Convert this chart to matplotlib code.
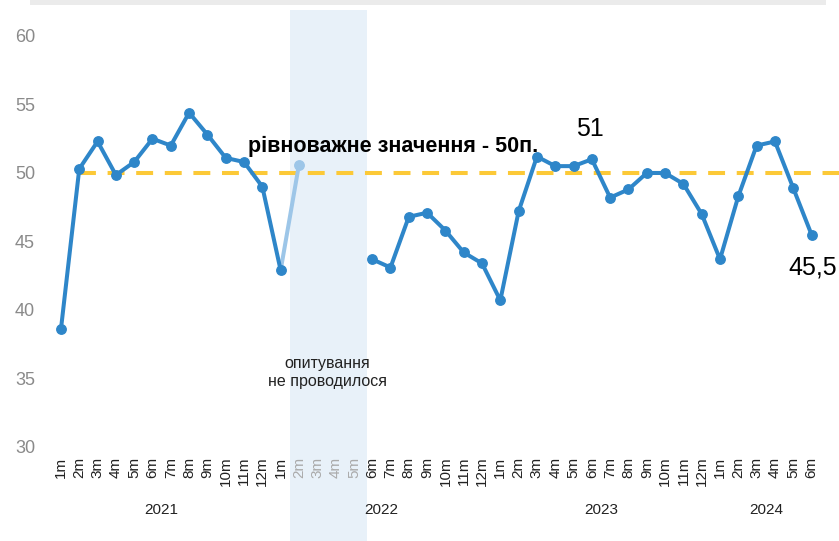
import numpy as np
import matplotlib
matplotlib.use("Agg")
import matplotlib.pyplot as plt
import matplotlib.transforms as mtransforms
from matplotlib.patches import Rectangle

plt.rcParams['font.family'] = ['Liberation Sans', 'DejaVu Sans']

# data
years = ['2021', '2022', '2023', '2024']
months_per_year = [12, 12, 12, 6]
month_labels = [f"{m}m" for n in months_per_year for m in range(1, n + 1)]

values = [38.6, 50.3, 52.3, 49.85, 50.8, 52.5, 52.0, 54.4, 52.8, 51.1, 50.8, 49.0,   # 2021
          42.9, 50.6, np.nan, np.nan, np.nan, 43.7, 43.1, 46.8, 47.1, 45.8, 44.2, 43.4,  # 2022
          40.7, 47.2, 51.2, 50.5, 50.5, 51.0, 48.2, 48.8, 50.0, 50.0, 49.2, 47.0,   # 2023
          43.7, 48.3, 52.0, 52.3, 48.9, 45.5]  # 2024
no_survey = [13, 14, 15, 16]     # 2022 2m-5m: greyed labels
light_point = 13                 # 2022 2m: pale point
equilibrium = 50
yticks = [30, 35, 40, 45, 50, 55, 60]

x = np.arange(len(values))
vals = np.array(values, dtype=float)

fig = plt.figure(figsize=(8.39, 5.41), dpi=100)
ax = fig.add_axes([0.06, 0.1738, 0.94, 0.7597])

blue = '#2e86c9'
light_blue = '#9dc6e8'

# shaded "no survey" band (covers labels too)
trans = mtransforms.blended_transform_factory(ax.transData, fig.transFigure)
ax.add_patch(Rectangle((12.5, 0), 4.2, (541 - 10) / 541, transform=trans,
                       facecolor='#e8f1f9', edgecolor='none', clip_on=False, zorder=0))

# equilibrium line
ax.plot([1, 42.6], [equilibrium, equilibrium], color='#fcc937', lw=2.9,
        dashes=(4.2, 2.9), zorder=2, clip_on=False)

# pale segment to 2022 2m
ax.plot(x[light_point - 1:light_point + 1], vals[light_point - 1:light_point + 1],
        color=light_blue, lw=2.9, zorder=3)
ax.plot([x[light_point]], [vals[light_point]], 'o', color=light_blue, ms=6.8, zorder=3)

main = vals.copy()
main[light_point] = np.nan
ax.plot(x, main, color=blue, lw=2.9, marker='o', ms=6.8, zorder=4, clip_on=False)

ax.set_xlim(-0.58, 42.5)
ax.set_ylim(30, 60)
ax.set_yticks(yticks)
ax.set_xticks(x)
ax.set_xticklabels(month_labels, rotation=90, fontsize=11)
for i, lab in enumerate(ax.get_xticklabels()):
    lab.set_color('#aaaaaa' if i in no_survey else '#222222')
ax.tick_params(axis='y', length=0, pad=11, labelsize=13, labelcolor='#8a8a8a')
ax.tick_params(axis='x', length=0, pad=7)
for s in ax.spines.values():
    s.set_visible(False)
ax.patch.set_alpha(0)

# year labels
ytrans = mtransforms.blended_transform_factory(ax.transData, fig.transFigure)
start = 0
for yr, n in zip(years, months_per_year):
    ax.text(start + (n - 1) / 2, (541 - 510) / 541, yr, transform=ytrans,
            ha='center', va='center', fontsize=11, color='#222222')
    start += n

ax.text(10.2, 51.9, 'рівноважне значення - 50п.', fontsize=15.5, fontweight='bold',
        ha='left', va='center', zorder=6)
ax.text(28.9, 53.2, '51', fontsize=18, ha='center', va='center', zorder=6)
ax.text(41.05, 43.1, '45,5', fontsize=18, ha='center', va='center', zorder=6, clip_on=False)
ax.text(14.55, 35.45, 'опитування\nне проводилося', fontsize=11.5, ha='center', va='center',
        multialignment='center', linespacing=1.25, color='#222222')

# thin grey strip at the top
fig.patches.append(Rectangle((30 / 839, (541 - 5) / 541), (826 - 30) / 839, 5 / 541,
                             transform=fig.transFigure, facecolor='#ebebeb',
                             edgecolor='none'))

fig.savefig('out.png', dpi=100)
